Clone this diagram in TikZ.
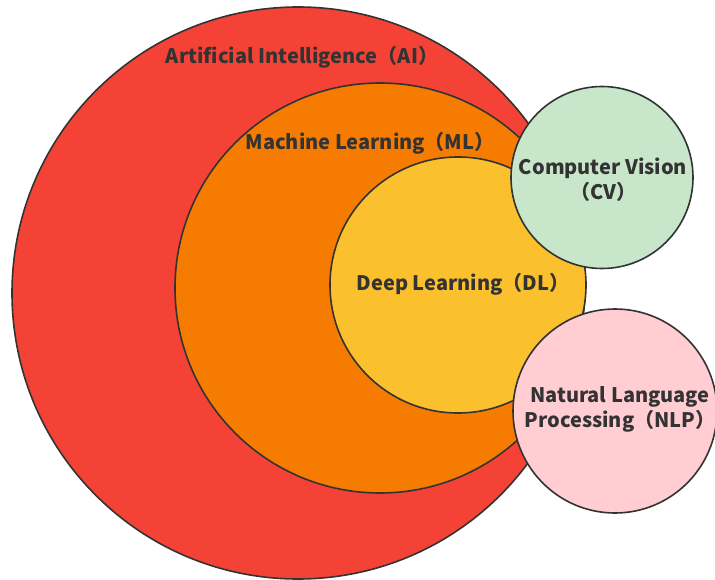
\documentclass[tikz,border=0pt]{standalone}
\usepackage{fontspec}
\setmainfont{Noto Sans CJK SC}
\definecolor{aired}{HTML}{F44336}
\definecolor{mlorange}{HTML}{F57C00}
\definecolor{dlyellow}{HTML}{FBC02D}
\definecolor{cvgreen}{HTML}{C8E6C9}
\definecolor{nlppink}{HTML}{FFCDD2}
\definecolor{edge}{HTML}{333333}
\begin{document}
\begin{tikzpicture}[x=1pt,y=-1pt,
  disc/.style={circle,draw=edge,line width=1.6pt,inner sep=0pt},
  lab/.style={text=edge,font=\fontsize{20}{25}\selectfont\bfseries,align=center,inner sep=0pt}]
\useasboundingbox (0,0) rectangle (715,580);
\clip (0,0) rectangle (715,580);
\node[disc,fill=aired,minimum size=572pt] (ai) at (298,293) {};
\node[disc,fill=mlorange,minimum size=410pt] (ml) at (380,288) {};
\node[disc,fill=dlyellow,minimum size=256pt] (dl) at (458,285) {};
\node[disc,fill=cvgreen,minimum size=182pt] (cv) at (602,177.5) {};
\node[disc,fill=nlppink,minimum size=204pt] (nlp) at (615,411) {};
\node[lab] (ait) at (302,57) {Artificial Intelligence（AI）};
\node[lab] (mlt) at (370,143) {Machine Learning（ML）};
\node[lab] (dlt) at (463,284) {Deep Learning（DL）};
\node[lab] (cvt) at (603,180) {Computer Vision\\（CV）};
\node[lab] (nlpt) at (620,409) {Natural Language\\Processing（NLP）};
\end{tikzpicture}
\end{document}
